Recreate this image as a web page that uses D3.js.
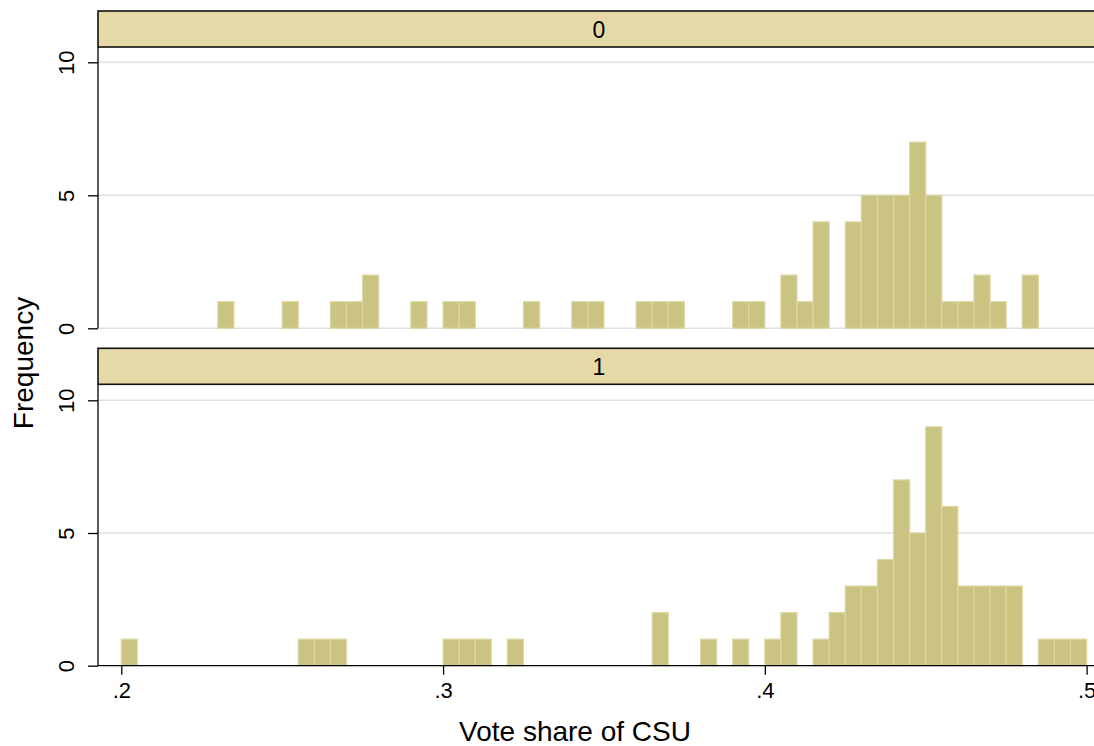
<!DOCTYPE html>
<html>
<head>
<meta charset="utf-8">
<script src="https://cdn.jsdelivr.net/npm/d3@7"></script>
<style>
  body { margin: 0; background: #fff; }
  svg { display: block; font-family: "Liberation Sans", Arial, sans-serif; }
</style>
</head>
<body>
<div id="container"></div>
<script>
// histogram of CSU vote share, by group (bins of width .005 from .2 to .5)
const groups = ["0", "1"];
const binStart = 0.2;
const binWidth = 0.005;

// frequency per bin, 60 bins
const counts0 = [
  0, 0, 0, 0, 0, 0, 1, 0, 0, 0,
  1, 0, 0, 1, 1, 2, 0, 0, 1, 0,
  1, 1, 0, 0, 0, 1, 0, 0, 1, 1,
  0, 0, 1, 1, 1, 0, 0, 0, 1, 1,
  0, 2, 1, 4, 0, 4, 5, 5, 5, 7,
  5, 1, 1, 2, 1, 0, 2, 0, 0, 0
];
const counts1 = [
  1, 0, 0, 0, 0, 0, 0, 0, 0, 0,
  0, 1, 1, 1, 0, 0, 0, 0, 0, 0,
  1, 1, 1, 0, 1, 0, 0, 0, 0, 0,
  0, 0, 0, 2, 0, 0, 1, 0, 1, 0,
  1, 2, 0, 1, 2, 3, 3, 4, 7, 5,
  9, 6, 3, 3, 3, 3, 0, 1, 1, 1
];

const xTicks = [0.2, 0.3, 0.4, 0.5];
const yTicks = [0, 5, 10];

const width = 1094;
const height = 746;
const plotLeft = 98;
const plotRight = 1100;

const barColor = "#cbc382";
const barEdge = "#ddd6a2";
const stripColor = "#e5d9a7";
const gridColor = "#e1e1e1";

const panels = [
  { label: groups[0], counts: counts0, stripTop: 11, stripBottom: 47, yBottom: 328.3, yTop: 62.3, xAxis: false },
  { label: groups[1], counts: counts1, stripTop: 348.3, stripBottom: 384.3, yBottom: 665.7, yTop: 400.3, xAxis: true }
];

const x = d3.scaleLinear()
  .domain([0.2, 0.5])
  .range([121.3, 1086.6]);

const svg = d3.create("svg")
  .attr("width", width)
  .attr("height", height)
  .attr("viewBox", [0, 0, width, height]);

panels.forEach(p => {
  const y = d3.scaleLinear()
    .domain([0, 10])
    .range([p.yBottom, p.yTop]);

  const g = svg.append("g");

  // gridlines
  g.append("g")
    .selectAll("line")
    .data(p.xAxis ? yTicks.filter(d => d > 0) : yTicks)
    .join("line")
    .attr("x1", plotLeft)
    .attr("x2", plotRight)
    .attr("y1", d => y(d))
    .attr("y2", d => y(d))
    .attr("stroke", gridColor)
    .attr("stroke-width", 1.6);

  // bars
  const bins = p.counts.map((c, i) => ({ x0: binStart + i * binWidth, x1: binStart + (i + 1) * binWidth, count: c }))
    .filter(d => d.count > 0);

  g.append("g")
    .selectAll("rect")
    .data(bins)
    .join("rect")
    .attr("x", d => x(d.x0))
    .attr("width", d => x(d.x1) - x(d.x0))
    .attr("y", d => y(d.count))
    .attr("height", d => y(0) - y(d.count))
    .attr("fill", barColor)
    .attr("stroke", barEdge)
    .attr("stroke-width", 1.2);

  // strip
  g.append("rect")
    .attr("x", plotLeft)
    .attr("y", p.stripTop)
    .attr("width", plotRight - plotLeft + 10)
    .attr("height", p.stripBottom - p.stripTop)
    .attr("fill", stripColor)
    .attr("stroke", "#111")
    .attr("stroke-width", 1.6);

  g.append("text")
    .attr("x", (plotLeft + plotRight) / 2)
    .attr("y", (p.stripTop + p.stripBottom) / 2 + 8.5)
    .attr("text-anchor", "middle")
    .style("font-size", "23px")
    .attr("fill", "#000")
    .text(p.label);

  // y axis
  const yAxis = g.append("g")
    .attr("transform", `translate(${plotLeft},0)`)
    .call(d3.axisLeft(y).tickValues(yTicks).tickSize(10).tickSizeOuter(0));
  yAxis.select(".domain").remove();
  yAxis.selectAll(".tick line").attr("stroke", "#000").attr("stroke-width", 1.3);
  yAxis.selectAll(".tick text")
    .style("font-size", "22px")
    .style("font-family", "Liberation Sans, Arial, sans-serif")
    .attr("fill", "#000")
    .attr("text-anchor", "middle")
    .attr("dy", null)
    .attr("x", null)
    .attr("transform", "translate(-24,0) rotate(-90)");

  g.append("line")
    .attr("x1", plotLeft)
    .attr("x2", plotLeft)
    .attr("y1", p.stripBottom)
    .attr("y2", p.yBottom)
    .attr("stroke", "#000")
    .attr("stroke-width", 1.3);

  if (p.xAxis) {
    const xAxis = g.append("g")
      .attr("transform", `translate(0,${p.yBottom})`)
      .call(d3.axisBottom(x)
        .tickValues(xTicks)
        .tickSize(9)
        .tickSizeOuter(0)
        .tickFormat(d => d3.format(".1f")(d).replace(/^0/, "")));
    xAxis.select(".domain").remove();
    xAxis.selectAll(".tick line").attr("stroke", "#000").attr("stroke-width", 1.3);
    xAxis.selectAll(".tick text")
      .style("font-size", "22px")
      .style("font-family", "Liberation Sans, Arial, sans-serif")
      .attr("fill", "#000")
      .attr("dy", null)
      .attr("y", 32);

    g.append("line")
      .attr("x1", plotLeft)
      .attr("x2", plotRight)
      .attr("y1", p.yBottom)
      .attr("y2", p.yBottom)
      .attr("stroke", "#000")
      .attr("stroke-width", 1.3);
  }
});

// axis titles
svg.append("text")
  .attr("x", 575)
  .attr("y", 741)
  .attr("text-anchor", "middle")
  .style("font-size", "28px")
  .attr("fill", "#000")
  .text("Vote share of CSU");

svg.append("text")
  .attr("transform", "translate(33,363) rotate(-90)")
  .attr("text-anchor", "middle")
  .style("font-size", "28px")
  .attr("fill", "#000")
  .text("Frequency");

container.append(svg.node());
</script>
</body>
</html>
